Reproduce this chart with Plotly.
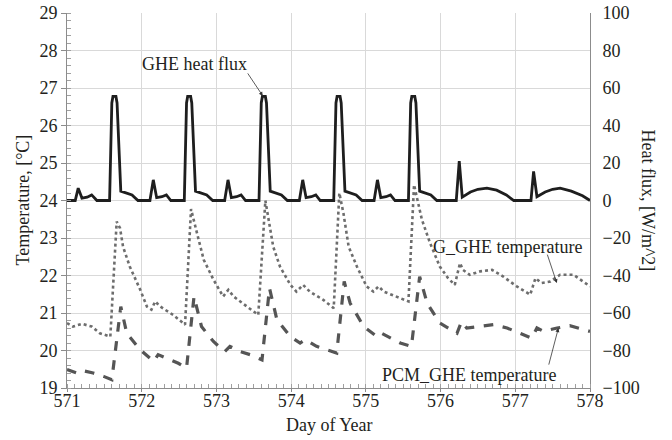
import plotly.graph_objects as go

# GHE heat flux (W/m^2), right axis
flux_day = [571.00, 571.11, 571.15, 571.20, 571.27, 571.33, 571.40, 571.57, 571.60, 571.615, 571.655, 571.67, 571.72, 571.87, 571.95,
            572.11, 572.155, 572.20, 572.27, 572.33, 572.39, 572.57, 572.60, 572.615, 572.655, 572.67, 572.72, 572.87, 572.95,
            573.11, 573.155, 573.20, 573.27, 573.33, 573.39, 573.57, 573.60, 573.615, 573.655, 573.67, 573.72, 573.87, 573.95,
            574.11, 574.155, 574.20, 574.27, 574.33, 574.39, 574.57, 574.60, 574.615, 574.655, 574.67, 574.72, 574.87, 574.95,
            575.11, 575.155, 575.20, 575.27, 575.33, 575.39, 575.57, 575.60, 575.615, 575.655, 575.67, 575.72, 575.87, 575.95,
            576.21, 576.25, 576.29, 576.40, 576.50, 576.62, 576.75, 576.88, 576.98,
            577.21, 577.245, 577.29, 577.40, 577.50, 577.60, 577.75, 577.90, 578.00]
flux_val = [0, 0, 6.6, 1.3, 1.8, 3, 0, 0, 52, 55.5, 55.5, 52, 5, 3, 0,
            0, 11, 1.5, 2, 3, 0, 0, 52, 55.5, 55.5, 52, 5, 3, 0,
            0, 11, 1.5, 2, 3, 0, 0, 52, 55.5, 55.5, 52, 5, 3, 0,
            0, 11, 1.5, 2, 3, 0, 0, 52, 55.5, 55.5, 52, 5, 3, 0,
            0, 11, 1.5, 2, 3, 0, 0, 52, 55.5, 55.5, 52, 5, 3, 0,
            0, 21, 1.8, 4.5, 6.0, 6.6, 5.5, 3, 0,
            0, 15.5, 2, 4.5, 6.0, 6.6, 5, 2.5, 0]

# G_GHE temperature (°C)
g_day = [571.00, 571.08, 571.20, 571.33, 571.44, 571.58, 571.665, 571.71, 571.75, 571.84, 571.98, 572.07, 572.13, 572.18,
         572.25, 572.42, 572.58, 572.66, 572.74, 572.83, 572.96, 573.09, 573.16, 573.23, 573.41, 573.56, 573.655, 573.69,
         573.76, 573.85, 573.99, 574.07, 574.16, 574.25, 574.43, 574.57, 574.645, 574.70, 574.77, 574.88, 575.01, 575.10,
         575.17, 575.24, 575.41, 575.57, 575.645, 575.75, 575.86, 575.99, 576.10, 576.19, 576.26, 576.30, 576.39, 576.53,
         576.69, 576.84, 577.02, 577.20, 577.27, 577.35, 577.47, 577.60, 577.78, 578.00]
g_temp = [20.73, 20.64, 20.71, 20.64, 20.46, 20.37, 23.44, 23.26, 22.77, 22.24, 21.62, 21.17, 21.09, 21.31,
          21.17, 20.95, 20.69, 23.77, 23.13, 22.42, 21.89, 21.44, 21.62, 21.44, 21.17, 20.95, 24.0, 23.6,
          22.77, 22.24, 21.75, 21.57, 21.75, 21.57, 21.35, 21.13, 24.2, 23.66, 22.77, 22.24, 21.71, 21.57,
          21.71, 21.57, 21.44, 21.31, 24.42, 23.49, 22.86, 22.24, 21.93, 21.75, 22.33, 22.15, 22.02, 22.11,
          22.15, 21.97, 21.71, 21.49, 21.93, 21.80, 21.84, 22.02, 22.02, 21.71]

# PCM_GHE temperature (°C)
p_day = [571.00, 571.13, 571.20, 571.35, 571.49, 571.60, 571.72, 571.80, 571.98, 572.16, 572.22, 572.33, 572.49, 572.60,
         572.70, 572.80, 572.96, 573.11, 573.18, 573.32, 573.45, 573.61, 573.71, 573.81, 573.99, 574.12, 574.19, 574.34,
         574.61, 574.71, 574.79, 574.97, 575.15, 575.21, 575.46, 575.61, 575.72, 575.82, 575.99, 576.22, 576.28, 576.35,
         576.48, 576.71, 576.89, 577.11, 577.22, 577.29, 577.38, 577.56, 577.73, 578.00]
p_temp = [19.49, 19.40, 19.47, 19.40, 19.31, 19.22, 21.17, 20.46, 20.02, 19.71, 19.89, 19.80, 19.66, 19.53,
          21.44, 20.64, 20.24, 19.97, 20.11, 19.97, 19.89, 19.75, 21.66, 20.82, 20.37, 20.20, 20.29, 20.11,
          19.93, 21.84, 21.26, 20.64, 20.37, 20.46, 20.20, 20.11, 21.97, 21.26, 20.73, 20.46, 20.77, 20.60,
          20.64, 20.69, 20.60, 20.42, 20.33, 20.60, 20.51, 20.60, 20.66, 20.51]

x_ticks = [571, 572, 573, 574, 575, 576, 577, 578]

FONT = "Liberation Serif"
TXT = "#231f20"

fig = go.Figure()
fig.add_trace(go.Scatter(x=g_day, y=g_temp, mode="lines", name="G_GHE temperature",
                         line=dict(color="#6d6d6d", width=2.6, dash="dot"), yaxis="y"))
fig.add_trace(go.Scatter(x=p_day, y=p_temp, mode="lines", name="PCM_GHE temperature",
                         line=dict(color="#555555", width=3.2, dash="dash"), yaxis="y"))
fig.add_trace(go.Scatter(x=flux_day, y=flux_val, mode="lines", name="GHE heat flux",
                         line=dict(color="#1e1e1e", width=2.8), yaxis="y2"))

fig.update_layout(
    width=672, height=440,
    margin=dict(l=67, r=82, t=13, b=52),
    paper_bgcolor="white", plot_bgcolor="white",
    showlegend=False,
    font=dict(family=FONT, size=18, color=TXT),
    xaxis=dict(range=[571, 578], tickvals=x_ticks, showgrid=True, gridcolor="#d9d9d9", gridwidth=1.2,
               zeroline=False, showline=True, linecolor="#8c8c8c", linewidth=1, automargin=False,
               ticks="outside", ticklen=3, tickcolor="#8c8c8c", ticklabelstandoff=-7,
               minor=dict(dtick=0.1, ticks="inside", ticklen=4, tickcolor="#a0a0a0", showgrid=False),
               tickfont=dict(family=FONT, size=18, color=TXT)),
    yaxis=dict(range=[19, 29], dtick=1, showgrid=True, gridcolor="#d9d9d9", gridwidth=1.2,
               zeroline=False, showline=True, linecolor="#8c8c8c", linewidth=1, automargin=False,
               ticks="outside", ticklen=5, tickcolor="#8c8c8c",
               minor=dict(dtick=0.2, ticks="inside", ticklen=4, tickcolor="#a0a0a0", showgrid=False),
               tickfont=dict(family=FONT, size=18, color=TXT)),
    yaxis2=dict(range=[-100, 100], dtick=20, overlaying="y", side="right", showgrid=False, automargin=False,
                zeroline=False, showline=True, linecolor="#8c8c8c", linewidth=1, ticks="",
                ticklabelstandoff=8,
                tickfont=dict(family=FONT, size=18, color=TXT)),
)

ann = []
# axis titles
ann.append(dict(text="Temperature, [°C]", xref="paper", yref="paper", x=-0.086, y=0.5, textangle=-90,
                xanchor="center", yanchor="middle",
                showarrow=False, font=dict(family=FONT, size=18, color=TXT)))
ann.append(dict(text="Heat flux, [W/m^2]", xref="paper", yref="paper", x=1.111, y=0.5, textangle=90,
                xanchor="center", yanchor="middle",
                showarrow=False, font=dict(family=FONT, size=18, color=TXT)))
ann.append(dict(text="Day of Year", xref="paper", yref="paper", x=0.5, y=-0.099, xanchor="center",
                yanchor="middle", showarrow=False, font=dict(family=FONT, size=18, color=TXT)))
# labels
ann.append(dict(text="GHE heat flux", x=572.70, y=27.645, xref="x", yref="y", showarrow=False,
                font=dict(family=FONT, size=18, color=TXT)))
ann.append(dict(text="G_GHE temperature", x=576.894, y=22.773, xref="x", yref="y", showarrow=False,
                font=dict(family=FONT, size=18, color=TXT)))
ann.append(dict(text="PCM_GHE temperature", x=576.384, y=19.352, xref="x", yref="y", showarrow=False,
                font=dict(family=FONT, size=18, color=TXT)))
# arrows
for hx, hy, ax, ay in [(573.62, 26.79, -16, -24), (577.556, 21.797, -10, -30), (577.577, 20.597, -10, 38)]:
    ann.append(dict(text="", x=hx, y=hy, xref="x", yref="y", ax=ax, ay=ay, showarrow=True,
                    arrowhead=2, arrowsize=1, arrowwidth=0.8, arrowcolor="#333333", standoff=0, startstandoff=0))
fig.update_layout(annotations=ann)

fig.write_html("out.html")
